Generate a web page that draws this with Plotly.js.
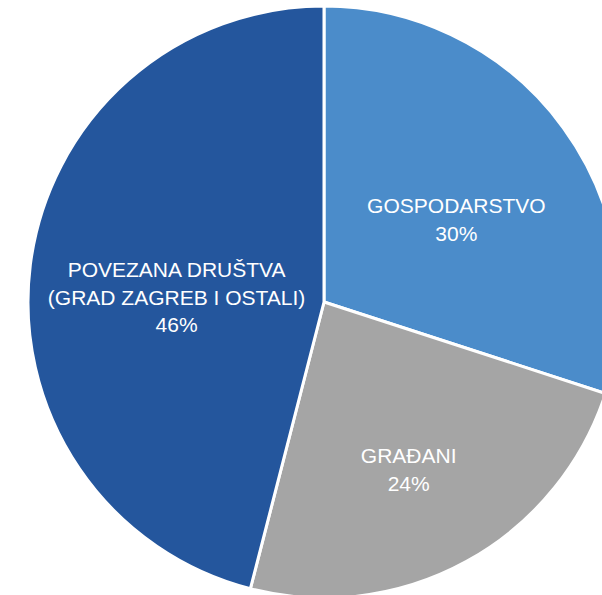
<!DOCTYPE html>
<html>
<head>
<meta charset="utf-8">
<script src="https://cdn.plot.ly/plotly-3.0.1.min.js"></script>
<style>
html,body{margin:0;padding:0;overflow:hidden;background:#fff;width:602px;height:595px;}
#chart{width:648px;height:598px;}
</style>
</head>
<body>
<div id="chart"></div>
<script>
const categories = ["GOSPODARSTVO", "GRAĐANI", "POVEZANA DRUŠTVA<br>(GRAD ZAGREB I OSTALI)"];
const values = [30, 24, 46];
const colors = ["#4b8cca", "#a5a5a5", "#24569d"];

Plotly.newPlot("chart", [{
  type: "pie",
  labels: categories,
  values: values,
  sort: false,
  direction: "clockwise",
  rotation: 0,
  marker: {colors: colors, line: {color: "#ffffff", width: 3}},
  textposition: "inside",
  insidetextorientation: "horizontal",
  texttemplate: "&nbsp;<br>%{label}<br>%{percent:.0%}",
  textfont: {family: "Liberation Sans, Arial, sans-serif", size: 21, color: "#ffffff"},
  hoverinfo: "none"
}], {
  width: 648,
  height: 598,
  margin: {l: 0, r: 0, t: 6, b: 0, pad: 0},
  showlegend: false,
  paper_bgcolor: "#ffffff"
}, {staticPlot: true, displayModeBar: false});
</script>
</body>
</html>
